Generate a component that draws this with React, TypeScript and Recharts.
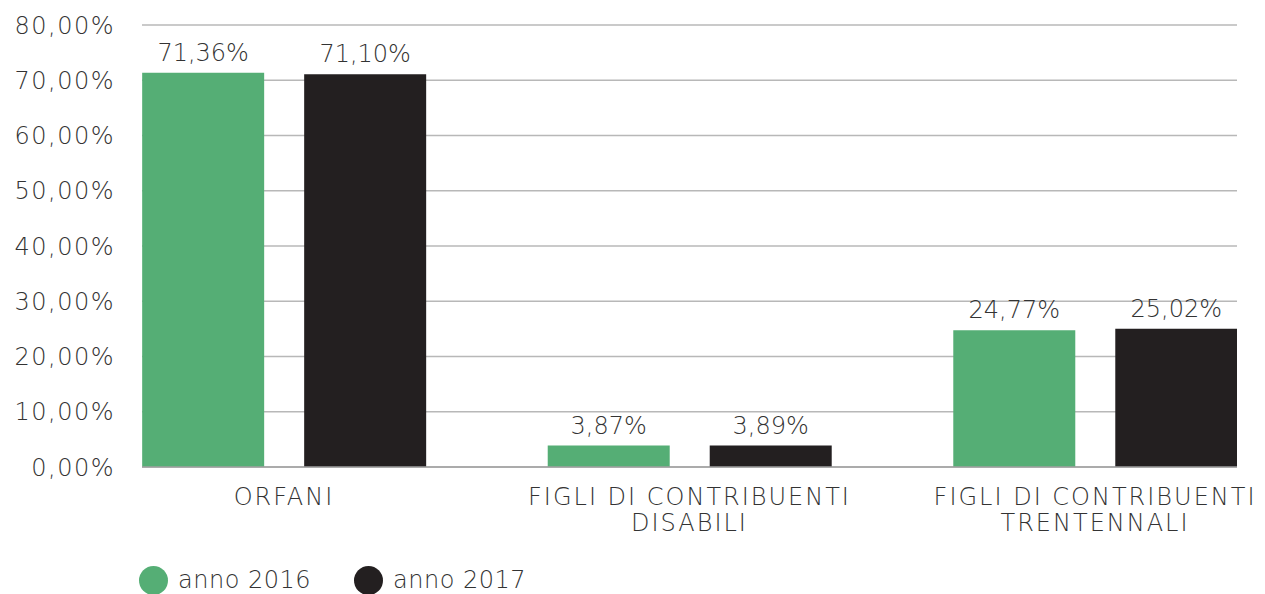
import { BarChart, Bar, XAxis, YAxis, CartesianGrid, Legend, LabelList } from 'recharts'

const categories = ['ORFANI', 'FIGLI DI CONTRIBUENTI\nDISABILI', 'FIGLI DI CONTRIBUENTI\nTRENTENNALI']
const anno2016 = [71.36, 3.87, 24.77]
const anno2017 = [71.1, 3.89, 25.02]
const yTicks = [0, 10, 20, 30, 40, 50, 60, 70, 80]

const GREEN = '#55ae75'
const BLACK = '#231f20'
const TEXT = '#333333'
const FONT = '"DejaVu Sans", sans-serif'
const WEIGHT = 300

const data = categories.map((name, i) => ({ idx: i, name, a2016: anno2016[i], a2017: anno2017[i] }))

const pct = (v: number) => v.toFixed(2).replace('.', ',') + '%'

function CategoryTick({ x, y, payload }: any) {
  const lines = String(categories[payload.value] ?? '').split('\n')
  return (
    <text x={x} y={y} textAnchor="middle" fill={TEXT} fontSize={24} fontFamily={FONT} fontWeight={WEIGHT} letterSpacing={2}>
      {lines.map((l, i) => (
        <tspan key={i} x={x} dy={i === 0 ? 30 : 26}>{l}</tspan>
      ))}
    </text>
  )
}

function LegendContent() {
  const items = [
    { label: 'anno 2016', color: GREEN },
    { label: 'anno 2017', color: BLACK },
  ]
  return (
    <div style={{ display: 'flex', height: 28, alignItems: 'center', paddingLeft: 139, fontFamily: FONT, fontWeight: WEIGHT, fontSize: 24, letterSpacing: 0.5, color: TEXT }}>
      {items.map((it) => (
        <div key={it.label} style={{ display: 'flex', alignItems: 'center', marginRight: 43 }}>
          <span style={{ width: 29, height: 29, borderRadius: '50%', background: it.color, display: 'inline-block', marginRight: 10 }} />
          <span>{it.label}</span>
        </div>
      ))}
    </div>
  )
}

export default function App() {
  return (
    <div style={{ position: 'absolute', left: 0, top: 0, width: 1265, height: 594, background: '#fff' }}>
      <BarChart width={1265} height={594} data={data} margin={{ top: 25, right: 28, left: 0, bottom: 0 }} barGap={40}>
        <CartesianGrid vertical={false} stroke="#b8b8b8" strokeWidth={1.3} />
        <XAxis
          dataKey="idx"
          type="number"
          domain={[-0.35, 2.35]}
          ticks={[0, 1, 2]}
          interval={0}
          height={99}
          tickLine={false}
          axisLine={{ stroke: '#a0a0a0', strokeWidth: 1.5 }}
          tick={<CategoryTick />}
          allowDataOverflow
        />
        <YAxis
          domain={[0, 80]}
          ticks={yTicks}
          width={142}
          tickSize={0}
          tickMargin={27}
          axisLine={false}
          tickLine={false}
          tickFormatter={pct}
          tick={{ fill: TEXT, fontSize: 24, fontFamily: FONT, fontWeight: WEIGHT, letterSpacing: 1.5 }}
        />
        <Legend verticalAlign="bottom" content={<LegendContent />} wrapperStyle={{ left: 0, width: 1265 }} />
        <Bar dataKey="a2016" name="anno 2016" fill={GREEN} barSize={122} isAnimationActive={false}>
          <LabelList dataKey="a2016" position="top" offset={12} formatter={(v: any) => pct(Number(v))} fill={TEXT} fontSize={24} fontFamily={FONT} fontWeight={WEIGHT} />
        </Bar>
        <Bar dataKey="a2017" name="anno 2017" fill={BLACK} barSize={122} isAnimationActive={false}>
          <LabelList dataKey="a2017" position="top" offset={12} formatter={(v: any) => pct(Number(v))} fill={TEXT} fontSize={24} fontFamily={FONT} fontWeight={WEIGHT} />
        </Bar>
      </BarChart>
    </div>
  )
}
